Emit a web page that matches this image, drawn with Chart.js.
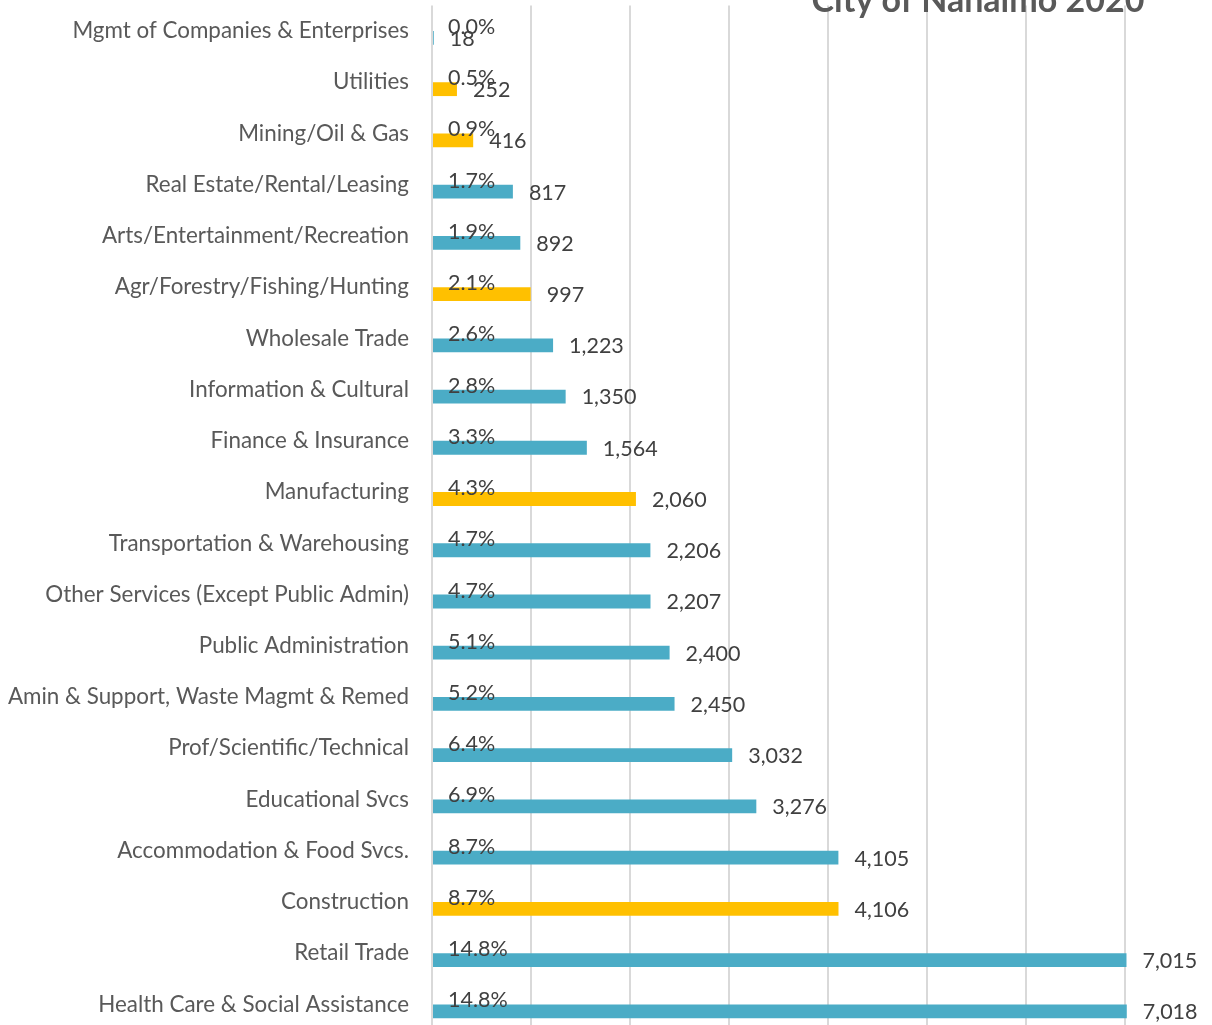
<!DOCTYPE html>
<html>
<head>
<meta charset="utf-8">
<script src="https://cdn.jsdelivr.net/npm/chart.js@4/dist/chart.umd.min.js"></script>
<style>
  html, body { margin: 0; padding: 0; background: #fff; overflow: hidden; }
  #wrap { width: 1212px; height: 1030px; }
</style>
</head>
<body>
<div id="wrap"><canvas id="myChart" width="1212" height="1030"></canvas></div>
<script>
const industries = [
  'Mgmt of Companies & Enterprises',
  'Utilities',
  'Mining/Oil & Gas',
  'Real Estate/Rental/Leasing',
  'Arts/Entertainment/Recreation',
  'Agr/Forestry/Fishing/Hunting',
  'Wholesale Trade',
  'Information & Cultural',
  'Finance & Insurance',
  'Manufacturing',
  'Transportation & Warehousing',
  'Other Services (Except Public Admin)',
  'Public Administration',
  'Amin & Support, Waste Magmt & Remed',
  'Prof/Scientific/Technical',
  'Educational Svcs',
  'Accommodation & Food Svcs.',
  'Construction',
  'Retail Trade',
  'Health Care & Social Assistance'
];

const employees = [18, 252, 416, 817, 892, 997, 1223, 1350, 1564, 2060,
  2206, 2207, 2400, 2450, 3032, 3276, 4105, 4106, 7015, 7018];

const sharePct = [0.0, 0.5, 0.9, 1.7, 1.9, 2.1, 2.6, 2.8, 3.3, 4.3,
  4.7, 4.7, 5.1, 5.2, 6.4, 6.9, 8.7, 8.7, 14.8, 14.8];

// highlighted industries get the gold bar
const highlighted = [false, true, true, false, false, true, false, false, false, true,
  false, false, false, false, false, false, false, true, false, false];

const xTicks = [0, 1000, 2000, 3000, 4000, 5000, 6000, 7000];

const teal = '#4BACC6';
const gold = '#FFC000';

const labelPlugin = {
  id: 'barLabels',
  afterDatasetsDraw(chart) {
    const ctx = chart.ctx;
    const base = chart.scales.x.getPixelForValue(0);
    ctx.save();
    ctx.fillStyle = '#404040';
    ctx.font = '21.5px Lato';
    ctx.textAlign = 'left';
    ctx.textBaseline = 'middle';
    chart.getDatasetMeta(0).data.forEach((bar, i) => {
      ctx.fillText(sharePct[i].toFixed(1) + '%', base + 16, bar.y + 3);
    });
    chart.getDatasetMeta(1).data.forEach((bar, i) => {
      ctx.fillText(employees[i].toLocaleString('en-US'), bar.x + 16, bar.y + 1);
    });
    // chart title (cropped at the top in the source)
    ctx.fillStyle = '#595959';
    ctx.font = 'bold 34px Lato';
    ctx.textAlign = 'center';
    ctx.textBaseline = 'alphabetic';
    ctx.fillText('City of Nanaimo 2020', 978, 12);
    ctx.restore();
  }
};

const ctx = document.getElementById('myChart').getContext('2d');

const myChart = new Chart(ctx, {
  type: 'bar',
  data: {
    labels: industries,
    datasets: [{
      label: 'Share',
      data: sharePct,
      backgroundColor: 'rgba(0,0,0,0)',
      borderWidth: 0
    }, {
      label: 'Employees',
      data: employees,
      backgroundColor: highlighted.map(h => h ? gold : teal),
      borderWidth: 0,
      clip: false
    }]
  },
  options: {
    indexAxis: 'y',
    responsive: false,
    animation: false,
    barPercentage: 1,
    categoryPercentage: 0.54,
    layout: {
      padding: { top: 5.4, right: 87, bottom: 0, left: 0 }
    },
    scales: {
      x: {
        min: 0,
        max: 7000,
        afterBuildTicks(scale) {
          scale.ticks = xTicks.map(v => ({ value: v }));
        },
        afterFit(scale) {
          scale.height = 0;
          scale.paddingLeft = 0;
          scale.paddingRight = 0;
        },
        grid: {
          color: '#D9D9D9',
          lineWidth: 2,
          drawTicks: false
        },
        border: { display: false },
        ticks: { display: false }
      },
      y: {
        afterFit(scale) {
          scale.width = 432;
          scale.paddingTop = 0;
          scale.paddingBottom = 0;
        },
        grid: { display: false, drawTicks: false },
        border: { display: false },
        ticks: {
          color: '#595959',
          padding: 23,
          autoSkip: false,
          font: { size: 22.4, family: 'Lato' }
        }
      }
    },
    plugins: {
      legend: { display: false },
      tooltip: { enabled: false }
    }
  },
  plugins: [labelPlugin]
});
</script>
</body>
</html>
